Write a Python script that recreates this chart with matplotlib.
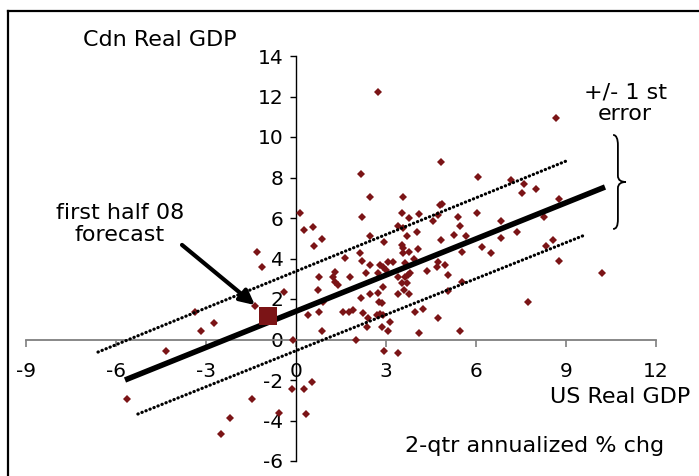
import numpy as np
import matplotlib
matplotlib.use("Agg")
import matplotlib.pyplot as plt
from matplotlib.path import Path
from matplotlib.patches import PathPatch
from matplotlib.lines import Line2D

# ----------------------------------------------------------------------
# Data (2-qtr annualized % chg)
# ----------------------------------------------------------------------
us_gdp = [
    -5.63, -4.33, -3.37, -3.17, -2.73, -2.50, -2.20, -1.47, -1.37, -1.30,
    -1.13, -0.57, -0.40, -0.13, -0.10, 0.27, 0.33, 0.53,
    0.13, 0.27, 0.57, 0.87, 0.60, 0.40, 0.77, 0.73, 0.77, 0.90, 0.87,
    1.23, 1.30, 1.30, 1.40, 1.57, 1.63, 1.77, 1.80, 1.90,
    2.00, 2.13, 2.17, 2.20, 2.20, 2.17, 2.23, 2.33, 2.37, 2.40, 2.47,
    2.47, 2.47, 2.47, 2.70, 2.73, 2.73, 2.73, 2.80, 2.80, 2.77, 2.87,
    2.87, 2.90, 2.90, 2.90, 2.93, 2.93, 3.00,
    3.07, 3.07, 3.13, 3.23, 3.40, 3.40, 3.40, 3.40, 3.53, 3.57, 3.57,
    3.53, 3.57, 3.57, 3.53, 3.60, 3.63, 3.63, 3.70, 3.70, 3.73, 3.77,
    3.77, 3.77, 3.80, 3.93, 3.97,
    4.03, 4.07, 4.10, 4.10, 4.23, 4.37, 4.57, 4.70, 4.73, 4.73, 4.73,
    4.80, 4.87, 4.83, 4.83, 4.97,
    5.07, 5.07, 5.27, 5.40, 5.47, 5.47, 5.53, 5.53, 5.67, 6.03, 6.07,
    6.20, 6.50, 6.83, 6.83, 7.17, 7.37, 7.53, 7.60, 7.73, 8.00, 8.27,
    8.33, 8.57, 8.67, 8.77, 8.77, 10.20,
]
cdn_gdp = [
    -2.94, -0.57, 1.36, 0.42, 0.81, -4.67, -3.88, -2.94, 1.65, 4.32,
    3.58, -3.62, 2.35, -2.45, 0.00, -2.45, -3.68, -2.09,
    6.25, 5.41, 5.56, 4.97, 4.60, 1.21, 1.36, 2.44, 3.09, 1.85, 0.42,
    3.09, 3.33, 2.84, 2.69, 1.36, 4.02, 1.36, 3.09, 1.45,
    0.00, 4.27, 8.17, 6.06, 3.88, 2.05, 1.31, 3.28, 0.62, 1.06, 7.04,
    5.11, 3.68, 2.25, 1.21, 3.28, 2.30, 12.22, 3.68, 1.26, 1.85, 1.80,
    0.62, 3.58, 2.59, 1.21, 4.81, -0.57, 3.43,
    3.83, 0.42, 0.86, 3.83, 5.60, 3.09, 2.25, -0.67, 6.25, 7.04, 5.50,
    4.67, 4.52, 4.27, 2.79, 2.44, 3.78, 3.09, 5.11, 2.79, 3.18, 6.00,
    4.32, 2.25, 3.28, 3.98, 1.36,
    5.31, 4.47, 6.20, 0.32, 1.50, 3.38, 5.85, 3.58, 6.15, 3.83, 1.06,
    6.64, 6.70, 8.77, 4.91, 3.68,
    3.18, 2.40, 5.16, 6.05, 5.60, 0.42, 4.32, 2.84, 5.11, 6.25, 8.02,
    4.57, 4.27, 5.85, 5.01, 7.88, 5.31, 7.23, 7.68, 1.85, 7.43, 6.05,
    4.62, 4.91, 10.94, 6.94, 3.88, 3.28,
]

# regression line and +/- 1 standard error bands (end points)
fit_x = [-5.7, 10.3]
fit_y = [-2.0, 7.53]
upper_x = [-6.6, 9.0]
upper_y = [-0.62, 8.81]
lower_x = [-5.27, 9.63]
lower_y = [-3.68, 5.16]

forecast_x = [-0.93]
forecast_y = [1.14]

x_ticks = [-9, -6, -3, 0, 3, 6, 9, 12]
y_ticks = [-6, -4, -2, 0, 2, 4, 6, 8, 10, 12, 14]

RED = "#7b1416"
FS_TICK = 14.5
FS_TEXT = 16

plt.rcParams["font.family"] = ["DejaVu Sans"]
plt.rcParams["axes.unicode_minus"] = False

fig = plt.figure(figsize=(6.99, 4.76), dpi=100)
W, H = 699.0, 476.0
ax = fig.add_axes([26 / W, 1 - 461 / H, 630 / W, 405 / H])
ax.set_xlim(-9, 12)
ax.set_ylim(-6, 14)

# axes crossing at the origin
ax.spines["left"].set_position(("data", 0))
ax.spines["bottom"].set_position(("data", 0))
ax.spines["top"].set_visible(False)
ax.spines["right"].set_visible(False)
ax.spines["bottom"].set_color("#7f7f7f")
ax.spines["bottom"].set_linewidth(1.3)
ax.spines["left"].set_color("black")
ax.spines["left"].set_linewidth(1.0)
ax.set_xticks(x_ticks)
ax.set_yticks(y_ticks)
ax.tick_params(axis="x", direction="out", length=5, width=1.2,
               color="#7f7f7f", pad=11, labelsize=FS_TICK)
ax.tick_params(axis="y", direction="out", length=4, width=1.0,
               color="black", pad=5, labelsize=FS_TICK)
ax.patch.set_visible(False)

# scatter
ax.plot(us_gdp, cdn_gdp, linestyle="none", marker="D", markersize=4,
        color=RED, markeredgewidth=0, zorder=3)

# fit and bands
ax.plot(fit_x, fit_y, color="black", lw=4, solid_capstyle="butt", zorder=4)
for bx, by in ((upper_x, upper_y), (lower_x, lower_y)):
    ax.plot(bx, by, color="black", lw=2.3, dashes=(0.1, 1.25),
            dash_capstyle="round", zorder=4)

# forecast marker
ax.plot(forecast_x, forecast_y, linestyle="none", marker="s",
        markersize=13, color=RED, markeredgewidth=0, zorder=5)

# arrow pointing at the forecast
ax.annotate("", xy=(-1.37, 1.70), xytext=(-3.8, 4.67),
            arrowprops=dict(arrowstyle="-|>", lw=3, color="black",
                            mutation_scale=22, shrinkA=0, shrinkB=0),
            zorder=6)

# curly brace for +/- 1 st error
verts = [
    (10.57, 10.1), (10.68, 10.1), (10.73, 9.9), (10.73, 9.6),
    (10.73, 8.1),
    (10.73, 7.85), (10.85, 7.78), (11.0, 7.78),
    (10.85, 7.78), (10.73, 7.7), (10.73, 7.46),
    (10.73, 5.95),
    (10.73, 5.6), (10.68, 5.46), (10.57, 5.46),
]
codes = [Path.MOVETO, Path.CURVE4, Path.CURVE4, Path.CURVE4,
         Path.LINETO,
         Path.CURVE4, Path.CURVE4, Path.CURVE4,
         Path.CURVE4, Path.CURVE4, Path.CURVE4,
         Path.LINETO,
         Path.CURVE4, Path.CURVE4, Path.CURVE4]
ax.add_patch(PathPatch(Path(verts, codes), fill=False, lw=1.3,
                       edgecolor="black", clip_on=False))

# labels
fig.text(160 / W, 1 - 40 / H, "Cdn Real GDP", ha="center", va="center",
         fontsize=FS_TEXT)
fig.text(120 / W, 1 - 224 / H, "first half 08\nforecast", ha="center",
         va="center", fontsize=FS_TEXT, linespacing=1.1)
fig.text(625 / W, 1 - 103 / H, "+/- 1 st\nerror", ha="center",
         va="center", fontsize=FS_TEXT, linespacing=1.1)
fig.text(620 / W, 1 - 397 / H, "US Real GDP", ha="center", va="center",
         fontsize=FS_TEXT)
fig.text(535 / W, 1 - 446 / H, "2-qtr annualized % chg", ha="center",
         va="center", fontsize=FS_TEXT)

# chart frame (cut off at right and bottom edges)
fig.add_artist(Line2D([8 / W, 8 / W], [-0.05, 1 - 11 / H],
                      transform=fig.transFigure, color="black", lw=1.6))
fig.add_artist(Line2D([8 / W, 1.05], [1 - 11 / H, 1 - 11 / H],
                      transform=fig.transFigure, color="black", lw=1.6))

fig.savefig("out.png", dpi=100)
